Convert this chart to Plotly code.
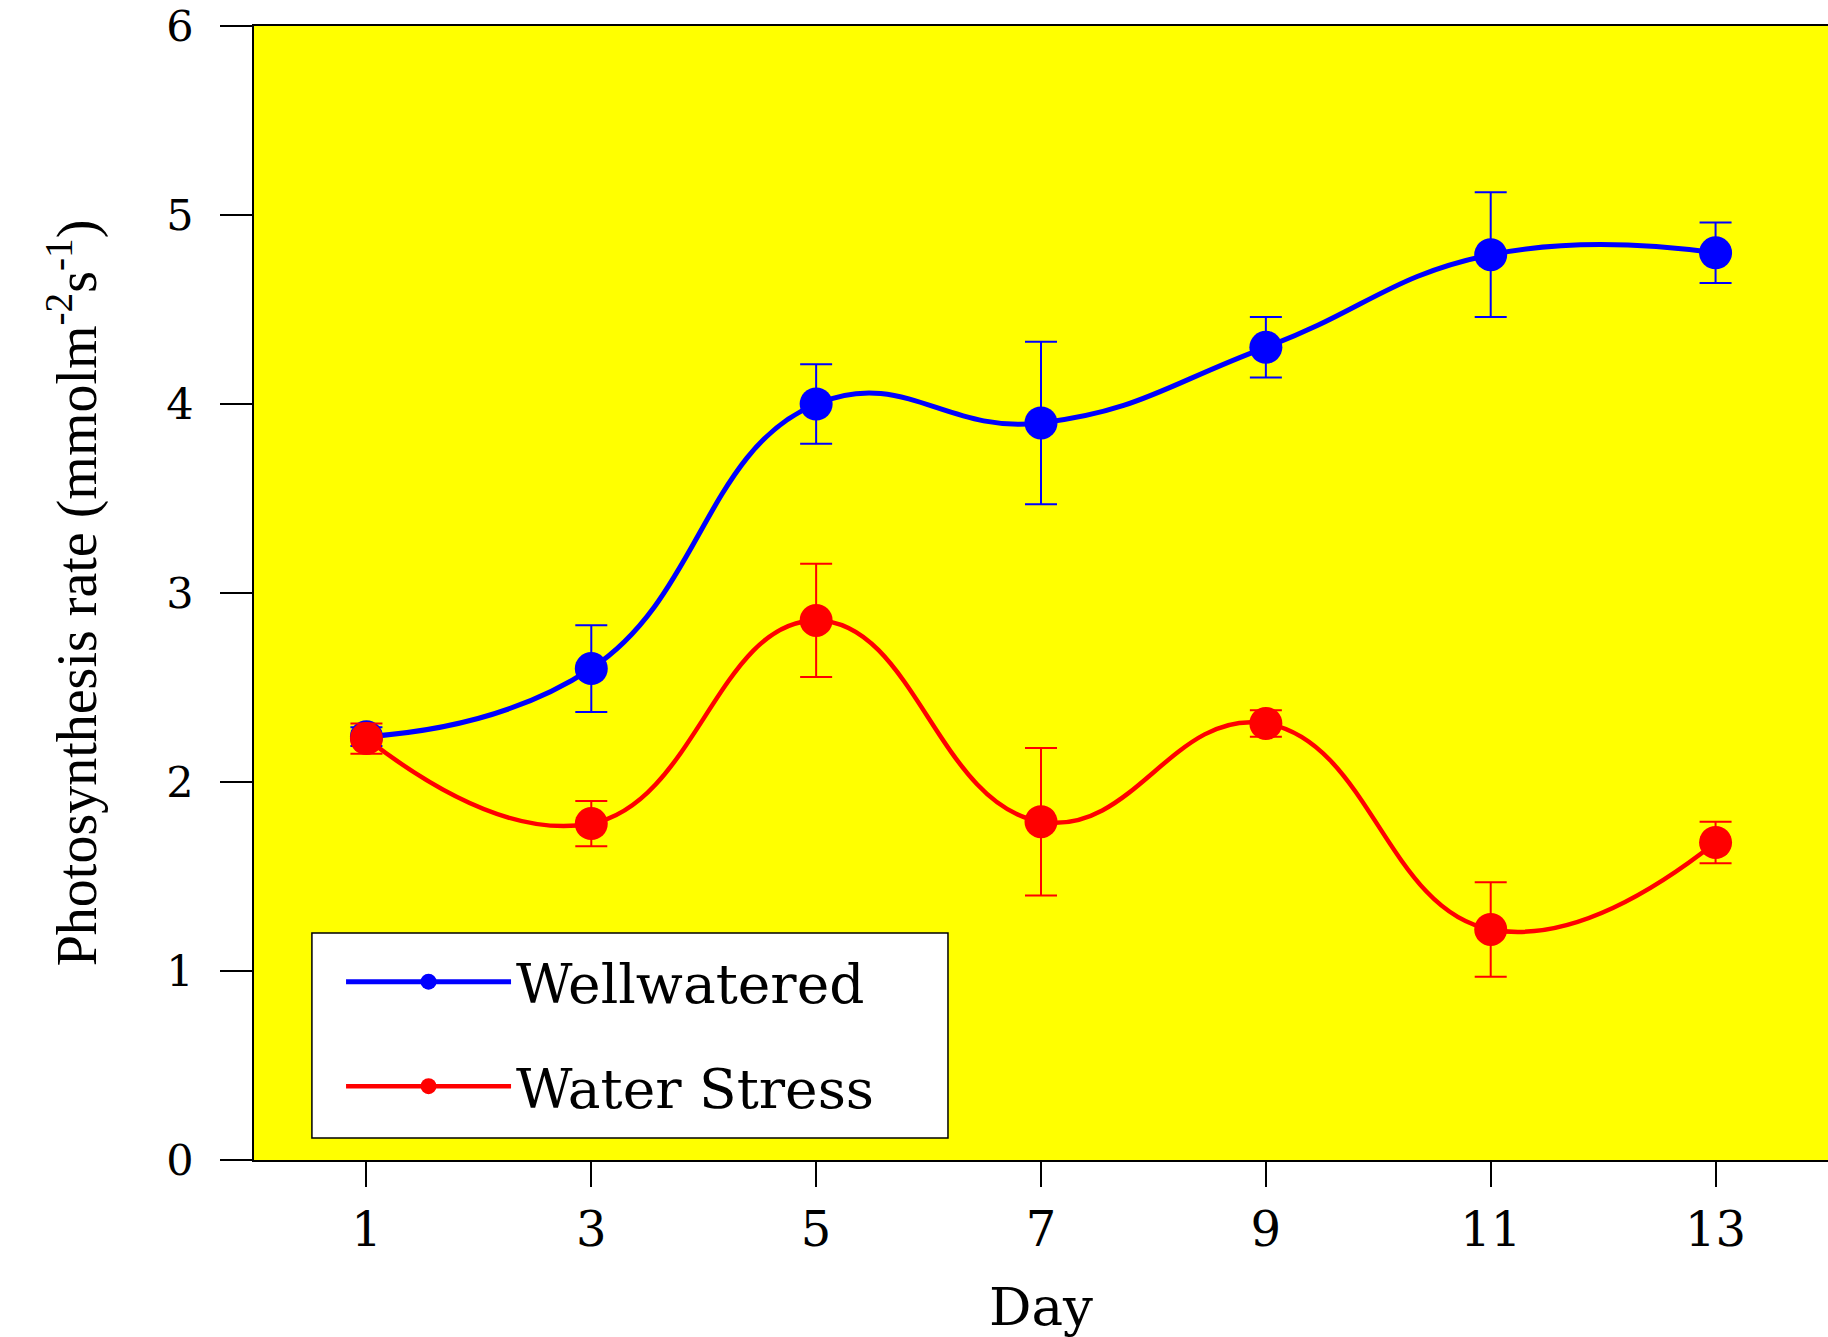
import plotly.graph_objects as go

days = [1, 3, 5, 7, 9, 11, 13]
well_mean = [2.24, 2.60, 4.00, 3.90, 4.30, 4.79, 4.80]
well_err = [0.05, 0.23, 0.21, 0.43, 0.16, 0.33, 0.16]
stress_mean = [2.23, 1.78, 2.855, 1.79, 2.31, 1.22, 1.68]
stress_err = [0.08, 0.12, 0.30, 0.39, 0.07, 0.25, 0.11]
x_ticks = [1, 3, 5, 7, 9, 11, 13]
y_ticks = [0, 1, 2, 3, 4, 5, 6]

fig = go.Figure()
fig.add_trace(go.Scatter(
    x=days, y=well_mean, name="Wellwatered", mode="lines+markers",
    line=dict(color="#0000FF", width=5, shape="spline", smoothing=1.3),
    marker=dict(color="#0000FF", size=33),
    error_y=dict(type="data", array=well_err, visible=True, color="#0000FF", thickness=2, width=16),
    legendgroup="a",
))
fig.add_trace(go.Scatter(
    x=days, y=stress_mean, name="Water Stress", mode="lines+markers",
    line=dict(color="#FF0000", width=4.5, shape="spline", smoothing=1.3),
    marker=dict(color="#FF0000", size=33),
    error_y=dict(type="data", array=stress_err, visible=True, color="#FF0000", thickness=2, width=16),
    legendgroup="b",
))

fig.add_shape(type="rect", xref="paper", yref="paper",
              x0=0.0368, x1=0.4409, y0=0.0194, y1=0.2002,
              fillcolor="white", line=dict(color="black", width=1.5), layer="above")

fig.update_layout(
    width=1828, height=1337,
    margin=dict(l=254, r=0, t=26, b=177),
    paper_bgcolor="white", plot_bgcolor="#FFFF00",
    font=dict(family="DejaVu Serif", color="black", size=46),
    showlegend=True,
    legend=dict(
        x=0.0553, y=0.1945, xanchor="left", yanchor="top",
        bgcolor="rgba(0,0,0,0)", borderwidth=0,
        font=dict(family="DejaVu Serif", size=55, color="black"),
        itemwidth=165, traceorder="grouped", tracegroupgap=30,
    ),
    xaxis=dict(
        range=[0, 14], tickvals=x_ticks, ticktext=[str(v) for v in x_ticks],
        showgrid=False, zeroline=False, showline=True, linecolor="black", linewidth=1.5,
        mirror=True, ticks="outside", ticklen=25, tickwidth=1.5, tickcolor="black",
        ticklabelstandoff=2, ticklabeloverflow="allow",
        tickfont=dict(family="DejaVu Serif", size=48),
        title=dict(text="Day", font=dict(family="DejaVu Serif", size=53), standoff=34),
        automargin=False,
    ),
    yaxis=dict(
        range=[0, 6], tickvals=y_ticks, ticktext=[str(v) for v in y_ticks],
        showgrid=False, zeroline=False, showline=True, linecolor="black", linewidth=1.5,
        ticks="outside", ticklen=32, tickwidth=1.5, tickcolor="black",
        ticklabelstandoff=18, ticklabeloverflow="allow",
        tickfont=dict(family="DejaVu Serif", size=43),
        title=dict(text="Photosynthesis rate (mmolm<sup>-2</sup>s<sup>-1</sup>)",
                   font=dict(family="Liberation Serif", size=56), standoff=52),
        automargin=False,
    ),
)

fig.write_html("out.html")
